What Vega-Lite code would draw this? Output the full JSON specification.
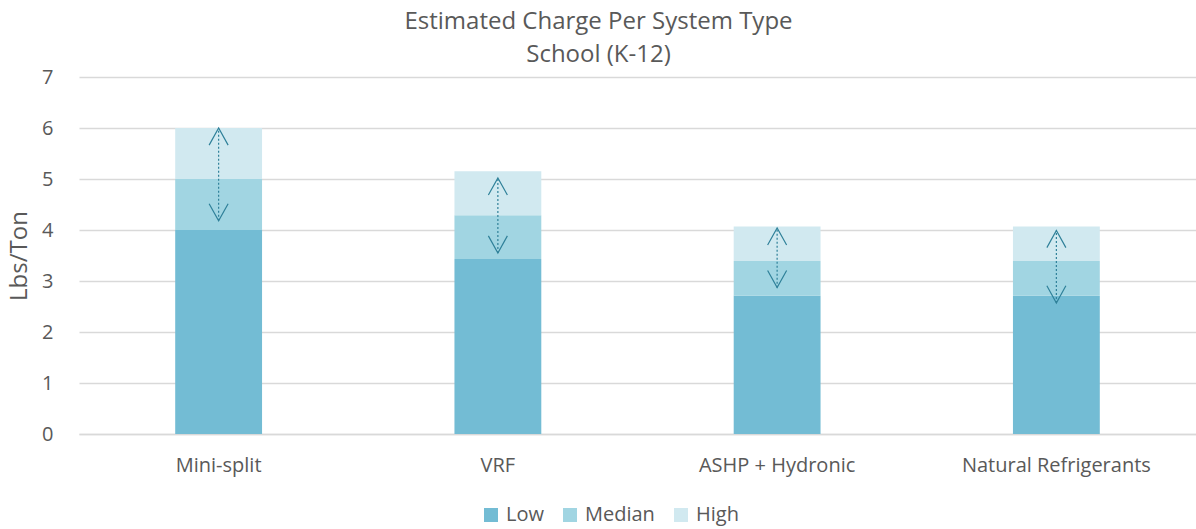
{
  "$schema": "https://vega.github.io/schema/vega-lite/v6.json",
  "width": 1117,
  "height": 357,
  "autosize": {"type": "none"},
  "padding": {"left": 79, "top": 77, "right": 0, "bottom": 95},
  "background": "white",
  "config": {
    "font": "Open Sans",
    "view": {"stroke": null}
  },
  "title": {
    "text": ["Estimated Charge Per System Type", "School (K-12)"],
    "fontSize": 24,
    "fontWeight": "normal",
    "color": "#595959",
    "font": "Open Sans",
    "lineHeight": 33,
    "anchor": "middle",
    "frame": "group",
    "dx": -39,
    "offset": 0
  },
  "datasets": {
    "bars": [
      {"system": "Mini-split", "level": "Low", "ord": 1, "value": 4.0},
      {"system": "Mini-split", "level": "Median", "ord": 2, "value": 1.0},
      {"system": "Mini-split", "level": "High", "ord": 3, "value": 1.0},
      {"system": "VRF", "level": "Low", "ord": 1, "value": 3.43},
      {"system": "VRF", "level": "Median", "ord": 2, "value": 0.86},
      {"system": "VRF", "level": "High", "ord": 3, "value": 0.86},
      {"system": "ASHP + Hydronic", "level": "Low", "ord": 1, "value": 2.71},
      {"system": "ASHP + Hydronic", "level": "Median", "ord": 2, "value": 0.68},
      {"system": "ASHP + Hydronic", "level": "High", "ord": 3, "value": 0.68},
      {"system": "Natural Refrigerants", "level": "Low", "ord": 1, "value": 2.71},
      {"system": "Natural Refrigerants", "level": "Median", "ord": 2, "value": 0.68},
      {"system": "Natural Refrigerants", "level": "High", "ord": 3, "value": 0.68}
    ],
    "arrows": [
      {"system": "Mini-split", "lo": 4.18, "hi": 6.0},
      {"system": "VRF", "lo": 3.55, "hi": 5.02},
      {"system": "ASHP + Hydronic", "lo": 2.87, "hi": 4.04},
      {"system": "Natural Refrigerants", "lo": 2.57, "hi": 3.99}
    ]
  },
  "encoding": {
    "x": {
      "field": "system",
      "type": "nominal",
      "sort": ["Mini-split", "VRF", "ASHP + Hydronic", "Natural Refrigerants"],
      "scale": {"paddingInner": 0.689, "paddingOuter": 0.3445},
      "axis": {
        "title": null,
        "labelAngle": 0,
        "labelFontSize": 20,
        "labelLimit": 0,
        "labelColor": "#595959",
        "labelPadding": 21,
        "ticks": false,
        "domainColor": "#d9d9d9",
        "domainWidth": 1.5
      }
    }
  },
  "layer": [
    {
      "data": {"name": "bars"},
      "mark": {"type": "bar"},
      "encoding": {
        "y": {
          "field": "value",
          "type": "quantitative",
          "stack": "zero",
          "scale": {"domain": [0, 7], "nice": false},
          "axis": {
            "title": "Lbs/Ton",
            "titleFontSize": 24,
            "titleFontWeight": "normal",
            "titleColor": "#595959",
            "titlePadding": 10,
            "tickCount": 7,
            "labelFontSize": 20,
            "labelColor": "#595959",
            "labelPadding": 26,
            "ticks": false,
            "domain": false,
            "gridColor": "#d9d9d9",
            "gridWidth": 1.5
          }
        },
        "color": {
          "field": "level",
          "type": "nominal",
          "scale": {
            "domain": ["Low", "Median", "High"],
            "range": ["#73bcd4", "#a1d5e2", "#d1e9f0"]
          },
          "legend": {
            "title": null,
            "orient": "none",
            "legendX": 402,
            "legendY": 428,
            "direction": "horizontal",
            "symbolType": "square",
            "symbolSize": 196,
            "symbolStrokeWidth": 0,
            "labelFontSize": 20,
            "labelColor": "#595959",
            "columnPadding": 16,
            "labelOffset": 5
          }
        },
        "order": {"field": "ord", "type": "quantitative"}
      }
    },
    {
      "data": {"name": "arrows"},
      "mark": {"type": "rule", "color": "#2f8099", "strokeWidth": 1.2, "strokeDash": [2, 2]},
      "encoding": {
        "y": {"field": "lo", "type": "quantitative"},
        "y2": {"field": "hi"}
      }
    },
    {
      "data": {"name": "arrows"},
      "mark": {"type": "point", "shape": "M-1,1.8L0,0L1,1.8", "filled": false, "stroke": "#2f8099", "strokeWidth": 1.2, "size": 361, "opacity": 1},
      "encoding": {
        "y": {"field": "hi", "type": "quantitative"}
      }
    },
    {
      "data": {"name": "arrows"},
      "mark": {"type": "point", "shape": "M-1,-1.8L0,0L1,-1.8", "filled": false, "stroke": "#2f8099", "strokeWidth": 1.2, "size": 361, "opacity": 1},
      "encoding": {
        "y": {"field": "lo", "type": "quantitative"}
      }
    }
  ]
}
